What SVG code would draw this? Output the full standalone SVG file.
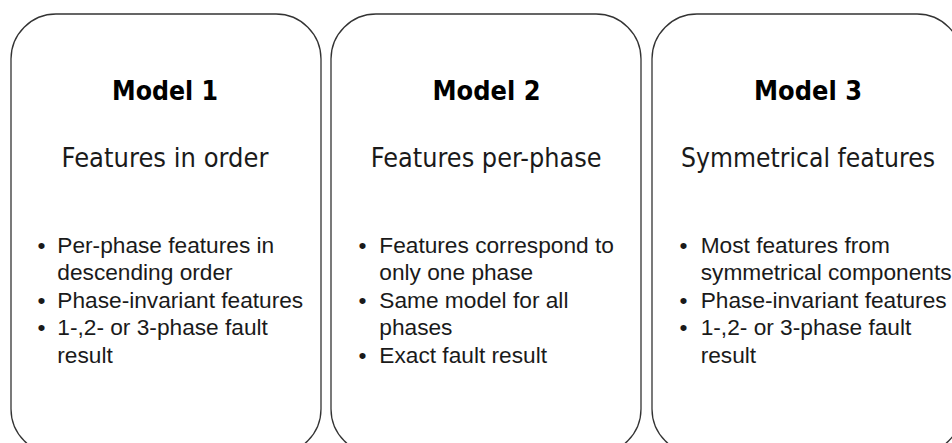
<svg xmlns="http://www.w3.org/2000/svg" width="952" height="443" viewBox="0 0 952 443">
  <style>
    .card { fill: #ffffff; stroke: #333333; stroke-width: 1.3; }
    .title { font-family: "DejaVu Sans", "Liberation Sans", sans-serif; font-weight: bold; font-size: 26.5px; fill: #000000; text-anchor: middle; }
    .sub { font-family: "DejaVu Sans", "Liberation Sans", sans-serif; font-size: 26.5px; fill: #1a1a1a; text-anchor: middle; }
    .item { font-family: "Liberation Sans", Arial, sans-serif; font-size: 22.7px; fill: #1a1a1a; }
  </style>
  <rect width="952" height="443" fill="#ffffff"/>

  <g id="model1">
    <rect class="card" x="11" y="14" width="310" height="440" rx="45" ry="45"/>
    <text class="title" x="165" y="100" textLength="106" lengthAdjust="spacingAndGlyphs">Model 1</text>
    <text class="sub" x="165" y="167.3" textLength="207" lengthAdjust="spacingAndGlyphs">Features in order</text>
    <g class="item">
      <text x="37.5" y="252.5">•</text>
      <text x="57.3" y="252.5">Per-phase features in</text>
      <text x="57.3" y="280.1">descending order</text>
      <text x="37.5" y="307.7">•</text>
      <text x="57.3" y="307.7">Phase-invariant features</text>
      <text x="37.5" y="335.3">•</text>
      <text x="57.3" y="335.3">1-,2- or 3-phase fault</text>
      <text x="57.3" y="362.9">result</text>
    </g>
  </g>

  <g id="model2">
    <rect class="card" x="331" y="14" width="310" height="440" rx="45" ry="45"/>
    <text class="title" x="486.5" y="100" textLength="108" lengthAdjust="spacingAndGlyphs">Model 2</text>
    <text class="sub" x="486.2" y="167.3" textLength="231" lengthAdjust="spacingAndGlyphs">Features per-phase</text>
    <g class="item">
      <text x="358.5" y="252.5">•</text>
      <text x="379.3" y="252.5">Features correspond to</text>
      <text x="379.3" y="280.1">only one phase</text>
      <text x="358.5" y="307.7">•</text>
      <text x="379.3" y="307.7">Same model for all</text>
      <text x="379.3" y="335.3">phases</text>
      <text x="358.5" y="362.9">•</text>
      <text x="379.3" y="362.9">Exact fault result</text>
    </g>
  </g>

  <g id="model3">
    <rect class="card" x="652" y="14" width="310" height="440" rx="45" ry="45"/>
    <text class="title" x="808" y="100" textLength="108" lengthAdjust="spacingAndGlyphs">Model 3</text>
    <text class="sub" x="808" y="167.3" textLength="254" lengthAdjust="spacingAndGlyphs">Symmetrical features</text>
    <g class="item">
      <text x="679.5" y="252.5">•</text>
      <text x="700.7" y="252.5">Most features from</text>
      <text x="700.7" y="280.1">symmetrical components</text>
      <text x="679.5" y="307.7">•</text>
      <text x="700.7" y="307.7">Phase-invariant features</text>
      <text x="679.5" y="335.3">•</text>
      <text x="700.7" y="335.3">1-,2- or 3-phase fault</text>
      <text x="700.7" y="362.9">result</text>
    </g>
  </g>

  <g id="connectors"/>
</svg>
